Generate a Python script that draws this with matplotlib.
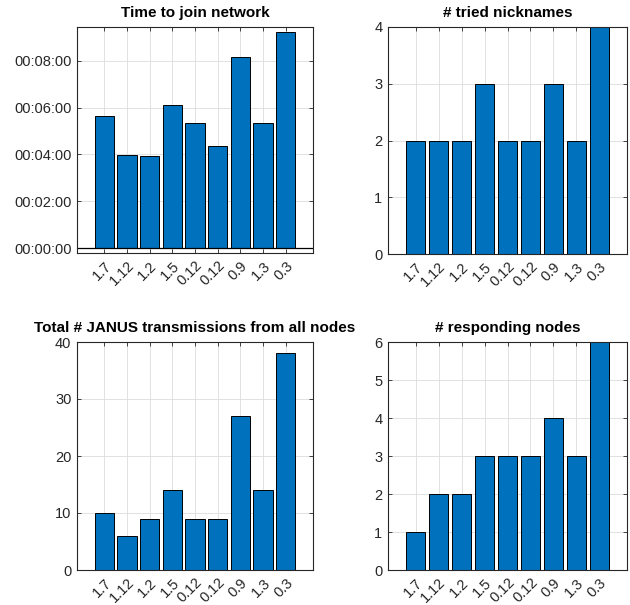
import matplotlib
matplotlib.use("Agg")
import matplotlib.pyplot as plt
from matplotlib.ticker import FuncFormatter, FixedLocator
import numpy as np

plt.rcParams['font.family'] = ['Liberation Sans', 'DejaVu Sans']

run_labels = ['1.7', '1.12', '1.2', '1.5', '0.12', '0.12', '0.9', '1.3', '0.3']
join_time_min = [5.64, 3.97, 3.93, 6.11, 5.36, 4.37, 8.15, 5.36, 9.24]
tried_nicknames = [2, 2, 2, 3, 2, 2, 3, 2, 4]
janus_tx = [10, 6, 9, 14, 9, 9, 27, 14, 38]
responding_nodes = [1, 2, 2, 3, 3, 3, 4, 3, 6]

BAR_COLOR = '#0072BD'
AX_COLOR = '#262626'

fig = plt.figure(figsize=(6.3, 6.05), dpi=100)
W, H = 630, 605


def px_axes(x0, y0, x1, y1):
    return fig.add_axes([x0 / W, 1 - y1 / H, (x1 - x0) / W, (y1 - y0) / H])


def style(ax, title, ylim, yticks):
    x = np.arange(1, len(run_labels) + 1)
    ax.set_xlim(1 - 1.2, len(run_labels) + 1.2)
    ax.set_ylim(*ylim)
    ax.set_xticks(x)
    ax.set_xticklabels(run_labels, rotation=45, ha='right', rotation_mode='anchor',
                       fontsize=9.5, color=AX_COLOR)
    ax.yaxis.set_major_locator(FixedLocator(yticks))
    ax.tick_params(axis='both', direction='in', length=3, width=0.6,
                   top=True, right=True, colors=AX_COLOR, labelsize=10.5, pad=4)
    ax.tick_params(axis='x', pad=4)
    ax.grid(True, color='#dcdcdc', linewidth=0.6)
    ax.set_axisbelow(True)
    for s in ax.spines.values():
        s.set_color(AX_COLOR)
        s.set_linewidth(0.8)
    ax.set_title(title, fontsize=11, fontweight='bold', pad=7)
    return x


# Time to join network (durations shown as HH:MM:SS)
ax1 = px_axes(77, 27, 313, 253)
x = style(ax1, 'Time to join network', (-0.21 * 60, 9.44 * 60), [0, 120, 240, 360, 480])
ax1.bar(x, np.array(join_time_min) * 60, width=0.85, color=BAR_COLOR,
        edgecolor='black', linewidth=0.7)
ax1.axhline(0, color='black', linewidth=0.9)
ax1.yaxis.set_major_formatter(FuncFormatter(
    lambda v, p: '%02d:%02d:%02d' % (int(v) // 3600, (int(v) % 3600) // 60, int(v) % 60)))

# Number of tried nicknames
ax2 = px_axes(388, 27, 627, 254)
x = style(ax2, '# tried nicknames', (0, 4), [0, 1, 2, 3, 4])
ax2.bar(x, tried_nicknames, width=0.85, color=BAR_COLOR, edgecolor='black', linewidth=0.7)

# Total JANUS transmissions
ax3 = px_axes(77, 342, 313, 570)
x = style(ax3, 'Total # JANUS transmissions from all nodes', (0, 40), [0, 10, 20, 30, 40])
ax3.bar(x, janus_tx, width=0.85, color=BAR_COLOR, edgecolor='black', linewidth=0.7)

# Responding nodes
ax4 = px_axes(388, 342, 627, 570)
x = style(ax4, '# responding nodes', (0, 6), [0, 1, 2, 3, 4, 5, 6])
ax4.bar(x, responding_nodes, width=0.85, color=BAR_COLOR, edgecolor='black', linewidth=0.7)

fig.savefig('out.png', dpi=100)
